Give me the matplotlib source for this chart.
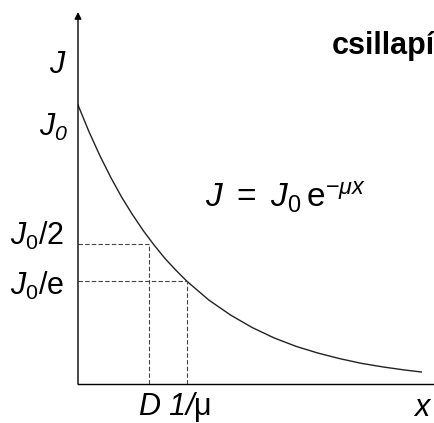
import matplotlib
matplotlib.use('Agg')
import matplotlib.pyplot as plt
import numpy as np

plt.rcParams['mathtext.fontset'] = 'custom'
plt.rcParams['mathtext.rm'] = 'Liberation Sans'
plt.rcParams['mathtext.it'] = 'Liberation Sans:italic'
plt.rcParams['mathtext.bf'] = 'Liberation Sans:bold'
plt.rcParams['mathtext.cal'] = 'Liberation Sans:italic'
plt.rcParams['font.family'] = ['Liberation Sans', 'DejaVu Sans']

# curve: depth in units of 1/mu, intensity in units of J0
depth = [0.0, 0.1, 0.2, 0.3, 0.4, 0.5, 0.6, 0.7, 0.8, 0.9, 1.0, 1.2, 1.4, 1.6,
         1.8, 2.0, 2.2, 2.4, 2.6, 2.8, 3.0, 3.15]
intensity = [1.0, 0.905, 0.819, 0.741, 0.670, 0.607, 0.549, 0.497, 0.449, 0.407,
             0.368, 0.301, 0.247, 0.202, 0.165, 0.135, 0.111, 0.091, 0.074,
             0.061, 0.050, 0.043]
half_depth = 0.65   # D
e_depth = 1.0       # 1/mu
half_level = 0.5
e_level = 0.368

W, H = 434, 423
fig = plt.figure(figsize=(W / 100, H / 100), dpi=100)

def fx(px):
    return px / W

def fy(py):
    return 1 - py / H

x0, y0 = 78, 384        # axis origin in pixels
ytop = 12
unit_x, unit_y = 109, 279
ax = fig.add_axes([fx(x0), fy(y0), fx(W - x0), (y0 - ytop) / H])
ax.set_xlim(0, (W - x0) / unit_x)
ax.set_ylim(0, (y0 - ytop) / unit_y)
ax.axis('off')

# axes lines
ax.plot([0, (W - x0) / unit_x], [0, 0], color='black', lw=1.0, clip_on=False)
ax.annotate('', xy=(0, (y0 - ytop) / unit_y), xytext=(0, 0),
            arrowprops=dict(arrowstyle='-|>', color='black', lw=1.0,
                            mutation_scale=10, shrinkA=0, shrinkB=0))

# curve
ax.plot(depth, intensity, color='#222222', lw=1.0)

# dashed guides
dash = dict(color='#444444', lw=0.8, ls=(0, (4, 2)))
ax.plot([0, half_depth], [half_level, half_level], **dash)
ax.plot([half_depth, half_depth], [0, half_level], **dash)
ax.plot([0, e_depth], [e_level, e_level], **dash)
ax.plot([e_depth, e_depth], [0, e_level], **dash)

fs = 22
fig.text(fx(58), fy(65), '$J$', fontsize=fs, ha='center', va='center')
fig.text(fx(54), fy(127), r'$J_{\mathcal{0}}$', fontsize=fs, ha='center', va='center')
fig.text(fx(37), fy(236), r'$J_0/2$', fontsize=fs, ha='center', va='center')
fig.text(fx(37), fy(286), r'$J_0/\mathrm{e}$', fontsize=fs, ha='center', va='center')
fig.text(fx(175), fy(407), r'$D\ \mathcal{1/}\mathrm{\mu}$', fontsize=fs,
         ha='center', va='center')
fig.text(fx(423), fy(408), '$x$', fontsize=fs, ha='center', va='center')
fig.text(fx(285), fy(197), r'$J\ =\ J_0\,\mathrm{e}^{-\mu x}$', fontsize=fs + 2,
         ha='center', va='center')
fig.text(fx(332), fy(46), 'csillapí', fontsize=22, fontweight='bold',
         ha='left', va='center')

fig.savefig('out.png', dpi=100)
